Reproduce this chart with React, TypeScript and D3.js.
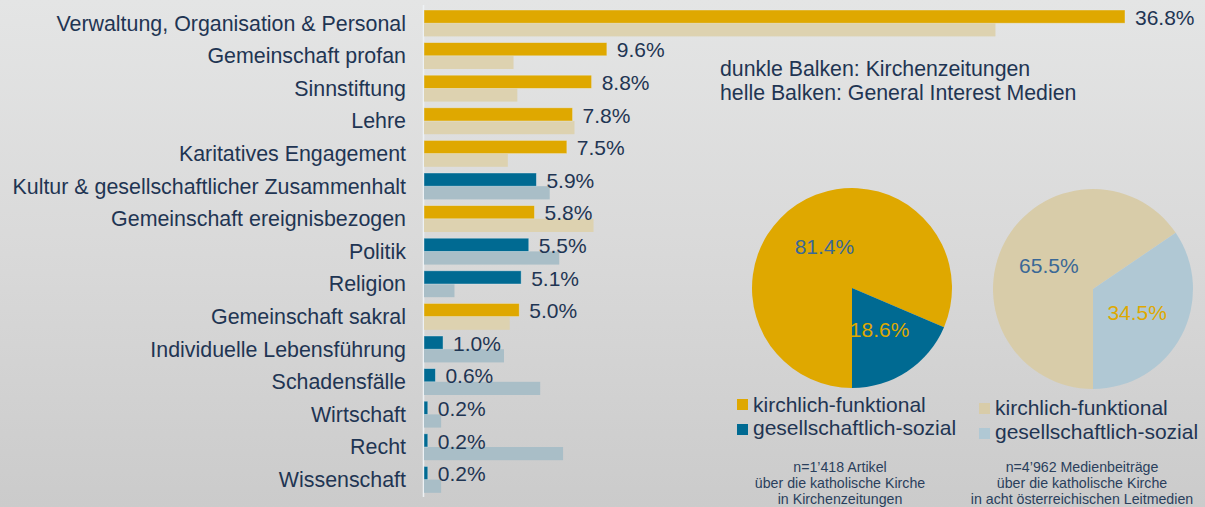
import React from "react";
import * as d3 from "d3";

const categories = [
  "Verwaltung, Organisation & Personal",
  "Gemeinschaft profan",
  "Sinnstiftung",
  "Lehre",
  "Karitatives Engagement",
  "Kultur & gesellschaftlicher Zusammenhalt",
  "Gemeinschaft ereignisbezogen",
  "Politik",
  "Religion",
  "Gemeinschaft sakral",
  "Individuelle Lebensführung",
  "Schadensfälle",
  "Wirtschaft",
  "Recht",
  "Wissenschaft",
];
const kirchenzeitungen = [36.8, 9.6, 8.8, 7.8, 7.5, 5.9, 5.8, 5.5, 5.1, 5.0, 1.0, 0.6, 0.2, 0.2, 0.2];
const generalInterest = [30.0, 4.7, 4.9, 7.9, 4.4, 6.6, 8.9, 7.1, 1.6, 4.5, 4.2, 6.1, 0.9, 7.3, 0.9];
const groups = ["k", "k", "k", "k", "k", "s", "k", "s", "s", "k", "s", "s", "s", "s", "s"];

const pieKirchen = [81.4, 18.6];
const pieGeneral = [65.5, 34.5];
const legendLabels = ["kirchlich-funktional", "gesellschaftlich-sozial"];
const noteLeft = ["n=1’418 Artikel", "über die katholische Kirche", "in Kirchenzeitungen"];
const noteRight = ["n=4’962 Medienbeiträge", "über die katholische Kirche", "in acht österreichischen Leitmedien"];
const infoLines = ["dunkle Balken: Kirchenzeitungen", "helle Balken: General Interest Medien"];

const W = 1205;
const H = 507;
const FONT = "'Liberation Sans', Arial, sans-serif";
const TEXT = "#1f3553";
const YELLOW = "#dfa800";
const BLUE = "#006a92";
const TAN = "#ddd2b0";
const LBLUE = "#a9bec7";
const PIE_TAN = "#d8cca9";
const PIE_LBLUE = "#b0c8d4";
const PIE_LABEL_BLUE = "#3a6896";

export default function App() {
  const x = d3.scaleLinear().domain([0, 36.8]).range([424, 1125]);
  const y = d3.scaleBand<string>().domain(categories).range([10, 10 + 32.6 * 15]).paddingInner(0);
  const barH = 13.2;

  const pie = d3.pie<number>().sort(null).startAngle(Math.PI).endAngle(3 * Math.PI);
  const arc = d3.arc<d3.PieArcDatum<number>>().innerRadius(0).outerRadius(100);

  const pies = [
    { cx: 852, cy: 288, data: pieKirchen, colors: [YELLOW, BLUE], labelColors: [PIE_LABEL_BLUE, YELLOW] },
    { cx: 1093, cy: 289, data: pieGeneral, colors: [PIE_TAN, PIE_LBLUE], labelColors: [PIE_LABEL_BLUE, YELLOW] },
  ];

  const legends = [
    { x: 737, ys: [399, 424], tys: [412, 435], colors: [YELLOW, BLUE] },
    { x: 979, ys: [403, 428], tys: [415, 439], colors: [PIE_TAN, PIE_LBLUE] },
  ];

  return (
    <svg width={W} height={H} style={{ position: "absolute", left: 0, top: 0 }} fontFamily={FONT}>
      <defs>
        <linearGradient id="bg" x1="0" y1="0" x2="0" y2="1">
          <stop offset="0" stopColor="#e4e5e5" />
          <stop offset="0.5" stopColor="#d9d9d9" />
          <stop offset="1" stopColor="#cbcbcb" />
        </linearGradient>
      </defs>
      <rect x={0} y={0} width={W} height={H} fill="url(#bg)" />

      <line x1={423.5} x2={423.5} y1={5} y2={497} stroke="#eef2f5" strokeWidth={1.5} />

      {categories.map((c, i) => {
        const y0 = y(c)!;
        const isK = groups[i] === "k";
        return (
          <g key={c}>
            <rect x={x(0)} y={y0 + barH} width={x(generalInterest[i]) - x(0)} height={barH} fill={isK ? TAN : LBLUE} />
            <rect
              x={x(0)}
              y={y0}
              width={x(kirchenzeitungen[i]) - x(0)}
              height={barH}
              fill={isK ? YELLOW : BLUE}
              stroke="rgba(235,240,243,0.5)"
              strokeWidth={0.8}
            />
            <text x={406} y={y0 + 20.5} textAnchor="end" fontSize={21.4} fill={TEXT}>
              {c}
            </text>
            <text x={x(kirchenzeitungen[i]) + 10} y={y0 + 14.8} fontSize={21} fill={TEXT}>
              {kirchenzeitungen[i].toFixed(1) + "%"}
            </text>
          </g>
        );
      })}

      {infoLines.map((t, i) => (
        <text key={t} x={720} y={76 + i * 24} fontSize={21.3} fill={TEXT}>
          {t}
        </text>
      ))}

      {pies.map((p, pi) => {
        const arcs = pie(p.data);
        return (
          <g key={pi} transform={`translate(${p.cx},${p.cy})`}>
            {arcs.map((a, i) => (
              <path key={i} d={arc(a)!} fill={p.colors[i]} />
            ))}
            {arcs.map((a, i) => {
              const [cx, cy] = arc.centroid(a);
              return (
                <text
                  key={"t" + i}
                  x={cx}
                  y={cy}
                  textAnchor="middle"
                  dominantBaseline="central"
                  fontSize={21}
                  fill={p.labelColors[i]}
                >
                  {a.data.toFixed(1) + "%"}
                </text>
              );
            })}
          </g>
        );
      })}

      {legends.map((l, li) => (
        <g key={li}>
          {legendLabels.map((lab, i) => (
            <g key={lab}>
              <rect x={l.x} y={l.ys[i]} width={11} height={11} fill={l.colors[i]} />
              <text x={l.x + 16} y={l.tys[i]} fontSize={21} fill={TEXT}>
                {lab}
              </text>
            </g>
          ))}
        </g>
      ))}

      {[
        { cx: 840, lines: noteLeft },
        { cx: 1082, lines: noteRight },
      ].map((n, ni) => (
        <g key={ni}>
          {n.lines.map((t, i) => (
            <text key={i} x={n.cx} y={472 + i * 16} textAnchor="middle" fontSize={14.2} fill="#2a3f5c">
              {t}
            </text>
          ))}
        </g>
      ))}
    </svg>
  );
}
